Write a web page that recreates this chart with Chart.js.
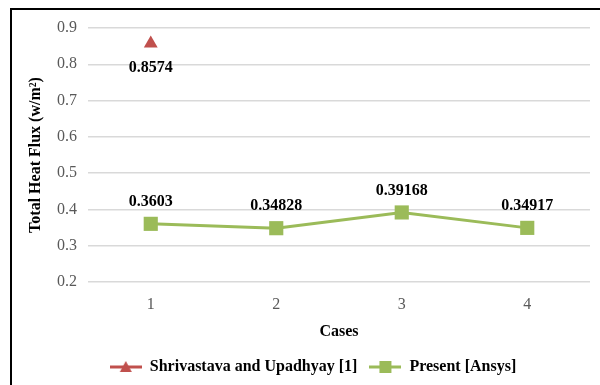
<!DOCTYPE html>
<html><head><meta charset="utf-8">
<script src="https://cdn.jsdelivr.net/npm/chart.js@4"></script>
<style>html,body{margin:0;padding:0;background:#fff}#wrap{width:600px;height:385px;position:relative}</style>
</head><body><div id="wrap"><canvas id="c" width="600" height="385"></canvas></div>
<script>
const categories = ['1', '2', '3', '4'];
const shrivastavaValues = [0.8574, null, null, null];
const presentValues = [0.3603, 0.34828, 0.39168, 0.34917];
const valueLabelsShrivastava = ['0.8574', '', '', ''];
const valueLabelsPresent = ['0.3603', '0.34828', '0.39168', '0.34917'];
const seriesNames = ['Shrivastava and Upadhyay [1]', 'Present [Ansys]'];
const yMin = 0.2, yMax = 0.9, yStep = 0.1;

const RED = '#C0504D', GREEN = '#9BBB59';
const SERIF = '"Liberation Serif", "Times New Roman", serif';

function makeMarker(color, style) {
  const c = document.createElement('canvas');
  c.width = 32; c.height = 16;
  const x = c.getContext('2d');
  x.strokeStyle = color; x.lineWidth = 3;
  x.beginPath(); x.moveTo(0, 8); x.lineTo(32, 8); x.stroke();
  x.fillStyle = color;
  if (style === 'triangle') {
    x.beginPath(); x.moveTo(16, 2); x.lineTo(22, 13); x.lineTo(10, 13); x.closePath(); x.fill();
  } else {
    x.fillRect(10, 2, 12, 12);
  }
  return c;
}
const markers = [makeMarker(RED, 'triangle'), makeMarker(GREEN, 'rect')];

const framePlugin = {
  id: 'frame',
  afterLayout(chart) {
    if (chart.legend) { chart.legend.left += 10; chart.legend.right += 10; }
  },
  afterDraw(chart) {
    const ctx = chart.ctx;
    ctx.save();
    ctx.strokeStyle = '#000'; ctx.lineWidth = 2;
    ctx.beginPath();
    ctx.moveTo(11, 385); ctx.lineTo(11, 9); ctx.lineTo(600, 9);
    ctx.stroke();
    ctx.restore();
  }
};

const labelPlugin = {
  id: 'valueLabels',
  afterDatasetsDraw(chart) {
    const ctx = chart.ctx;
    ctx.save();
    ctx.font = 'bold 16px ' + SERIF;
    ctx.fillStyle = '#000';
    ctx.textAlign = 'center';
    ctx.textBaseline = 'middle';
    chart.data.datasets.forEach((ds, i) => {
      const meta = chart.getDatasetMeta(i);
      meta.data.forEach((pt, j) => {
        const txt = ds.valueLabels[j];
        if (!txt || ds.data[j] == null) return;
        ctx.fillText(txt, pt.x, pt.y + ds.labelOffset);
      });
    });
    ctx.restore();
  }
};

new Chart(document.getElementById('c'), {
  type: 'line',
  data: {
    labels: categories,
    datasets: [
      {
        label: seriesNames[0],
        data: shrivastavaValues,
        valueLabels: valueLabelsShrivastava,
        labelOffset: 24,
        borderColor: RED, backgroundColor: RED,
        pointStyle: 'triangle', pointRadius: 8, pointBorderWidth: 0,
        borderWidth: 3, showLine: false
      },
      {
        label: seriesNames[1],
        data: presentValues,
        valueLabels: valueLabelsPresent,
        labelOffset: -22,
        borderColor: GREEN, backgroundColor: GREEN,
        pointStyle: 'rect', pointRadius: 10, pointBorderWidth: 0,
        borderWidth: 3, tension: 0
      }
    ]
  },
  options: {
    responsive: false,
    devicePixelRatio: 1,
    animation: false,
    layout: { padding: { left: 12, top: 28, right: 6, bottom: 0 } },
    plugins: {
      tooltip: { enabled: false },
      legend: {
        position: 'bottom',
        labels: {
          usePointStyle: true,
          pointStyleWidth: 32,
          padding: 12,
          color: '#000',
          font: { family: SERIF, size: 16, weight: 'bold' },
          generateLabels(chart) {
            return chart.data.datasets.map((ds, i) => ({
              text: ds.label,
              pointStyle: markers[i],
              fillStyle: ds.borderColor,
              strokeStyle: ds.borderColor,
              lineWidth: 0,
              hidden: false,
              datasetIndex: i,
              fontColor: '#000'
            }));
          }
        }
      }
    },
    scales: {
      x: {
        offset: true,
        grid: { display: false, drawTicks: false },
        border: { display: false },
        ticks: { color: '#595959', padding: 13, font: { family: SERIF, size: 16 } },
        title: { display: true, text: 'Cases', color: '#000', padding: { top: 4, bottom: 6 }, font: { family: SERIF, size: 16, weight: 'bold' } },
        afterFit(scale) { scale.height = 65; }
      },
      y: {
        min: yMin, max: yMax,
        grid: { color: '#D9D9D9', lineWidth: 1.5, drawTicks: false },
        border: { display: false },
        ticks: { stepSize: yStep, color: '#595959', padding: 11, font: { family: SERIF, size: 16 },
                 callback: v => v.toFixed(1) },
        title: { display: true, text: 'Total Heat Flux (w/m²)', color: '#000', padding: { top: 14, bottom: 4 }, font: { family: SERIF, size: 16, weight: 'bold' } },
        afterFit(scale) { scale.width = 76; }
      }
    }
  },
  plugins: [framePlugin, labelPlugin]
});
</script></body></html>
